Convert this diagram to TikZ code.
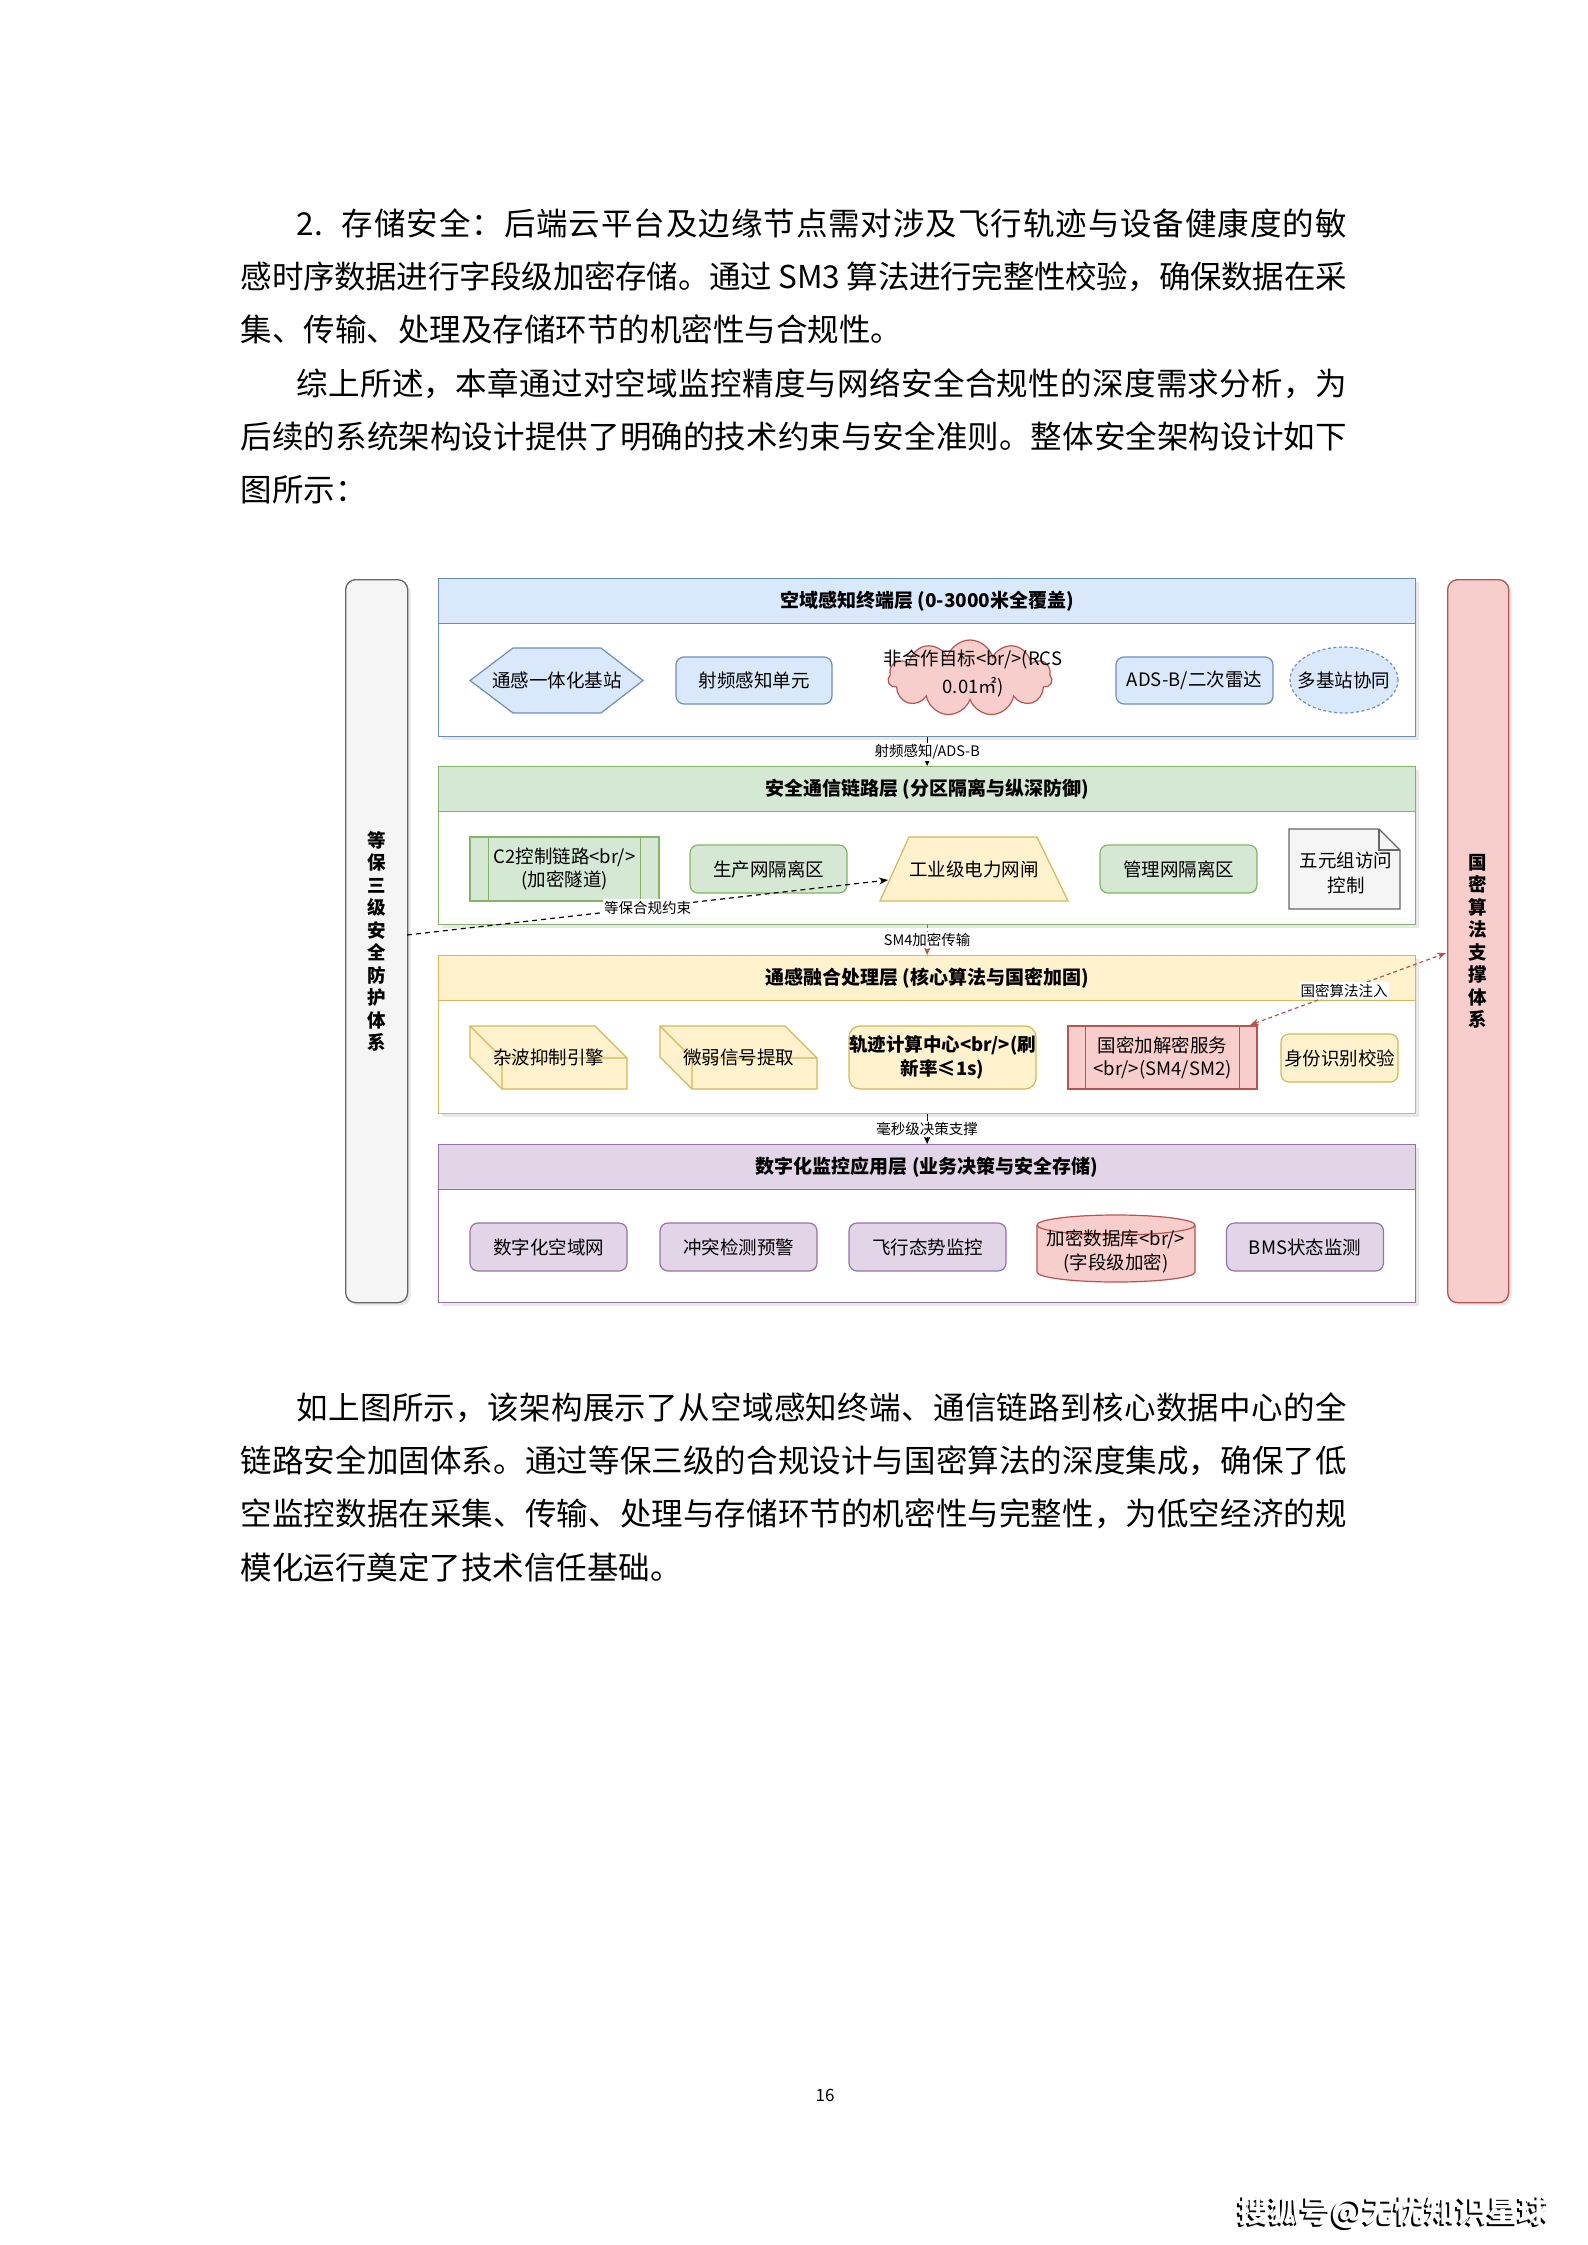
\documentclass[tikz,border=0pt]{standalone}
\usepackage{fontspec}
\setmainfont{Noto Sans CJK SC}
\usetikzlibrary{arrows.meta,shapes.geometric,shapes.symbols,shadows}
\newcount\mycc
\mycc="4E00
\loop \XeTeXcharclass\mycc=7 \ifnum\mycc<"9FFF \advance\mycc by 1 \repeat
\XeTeXcharclass"FF0C=7 \XeTeXcharclass"3002=7 \XeTeXcharclass"FF1A=7 \XeTeXcharclass"3001=7
\XeTeXinterchartokenstate=1
\XeTeXinterchartoks 7 7 {\hskip 0pt plus 3pt minus 1.2pt\relax}
\definecolor{blueF}{HTML}{DAE8FC}\definecolor{blueD}{HTML}{6C8EBF}
\definecolor{greenF}{HTML}{D5E8D4}\definecolor{greenD}{HTML}{82B366}
\definecolor{yelF}{HTML}{FFF2CC}\definecolor{yelD}{HTML}{D6B656}
\definecolor{purF}{HTML}{E1D5E7}\definecolor{purD}{HTML}{9673A6}
\definecolor{redF}{HTML}{F8CECC}\definecolor{redD}{HTML}{B85450}
\definecolor{grayF}{HTML}{F5F5F5}\definecolor{grayD}{HTML}{666666}
\newcommand{\myfs}[2]{\fontsize{#1}{#2}\selectfont}
\begin{document}
\begin{tikzpicture}[x=1pt,y=1pt,
  bodytxt/.style={anchor=west, inner sep=0pt, font=\myfs{31.5}{31.5}},
  layerbox/.style={draw=#1, fill=white, line width=1.3pt, minimum width=977, minimum height=158, anchor=north west, inner sep=0pt,
     drop shadow={opacity=0.18, shadow xshift=3pt, shadow yshift=-3pt}},
  header/.style 2 args={draw=#1, fill=#2, line width=1.3pt, minimum width=977, minimum height=45, anchor=north west, inner sep=0pt, font=\bfseries\myfs{19}{22}},
  ntext/.style={font=\myfs{18.5}{22}, align=center, inner sep=0pt, text=black},
  shp/.style 2 args={draw=#1, fill=#2, line width=1.2pt},
  rbox/.style 2 args={draw=#1, fill=#2, line width=1.2pt, rounded corners=8pt, minimum width=157, minimum height=48, ntext},
  pbox/.style 2 args={draw=#1, fill=#2, line width=1.2pt, minimum width=189, minimum height=63, ntext},
  pillar/.style 2 args={draw=#1, fill=#2, line width=1.3pt, rounded corners=10pt, minimum height=723, anchor=north west, inner sep=0pt,
     align=center, font=\bfseries\myfs{18.5}{22.5}, drop shadow={opacity=0.18, shadow xshift=3pt, shadow yshift=-3pt}},
  lbl/.style={fill=white, inner sep=1.5pt, font=\myfs{14.5}{16}, text=black},
  conn/.style={line width=1.2pt, -{Stealth[length=8pt,width=7pt]}}
]
\useasboundingbox (0,0) rectangle (1587,-2245);
\fill[white] (0,0) rectangle (1587,-2245);

% ---------- body text ----------
\node[bodytxt] (t1) at (296.5,-223.4) {\hbox to 1050pt{2.\kern0.6em 存储安全：后端云平台及边缘节点需对涉及飞行轨迹与设备健康度的敏}};
\node[bodytxt] (t2) at (240.6,-276.4) {\hbox to 1106pt{感时序数据进行字段级加密存储。通过 SM3 算法进行完整性校验，确保数据在采}};
\node[bodytxt] (t3) at (240.6,-329.4) {集、传输、处理及存储环节的机密性与合规性。};
\node[bodytxt] (t4) at (296.5,-383.9) {\hbox to 1050pt{综上所述，本章通过对空域监控精度与网络安全合规性的深度需求分析，为}};
\node[bodytxt] (t5) at (240.6,-436.9) {\hbox to 1106pt{后续的系统架构设计提供了明确的技术约束与安全准则。整体安全架构设计如下}};
\node[bodytxt] (t6) at (240.6,-489.8) {图所示：};

\node[bodytxt] (b1) at (296.5,-1408) {\hbox to 1050pt{如上图所示，该架构展示了从空域感知终端、通信链路到核心数据中心的全}};
\node[bodytxt] (b2) at (240.6,-1461) {\hbox to 1106pt{链路安全加固体系。通过等保三级的合规设计与国密算法的深度集成，确保了低}};
\node[bodytxt] (b3) at (240.6,-1514) {\hbox to 1106pt{空监控数据在采集、传输、处理与存储环节的机密性与完整性，为低空经济的规}};
\node[bodytxt] (b4) at (240.6,-1567) {模化运行奠定了技术信任基础。};

\node[font=\myfs{17}{17}, inner sep=0pt] (pg) at (825,-2095) {16};
\node[font=\bfseries\myfs{31}{31}, inner sep=0pt, text=black] (wmS) at (1392,-2214.5) {搜狐号@无忧知识星球};
\node[font=\bfseries\myfs{31}{31}, inner sep=0pt, text=white] (wm) at (1394,-2212.5) {搜狐号@无忧知识星球};

% ---------- pillars ----------
\node[pillar={grayD}{grayF}, minimum width=62] (LP) at (345,-579) {等\\保\\三\\级\\安\\全\\防\\护\\体\\系};
\node[pillar={redD}{redF}, minimum width=61] (RP) at (1447,-579) {国\\密\\算\\法\\支\\撑\\体\\系};

% ---------- layer 1 ----------
\node[layerbox=blueD] (L1) at (438,-578) {};
\node[header={blueD}{blueF}] (L1h) at (438,-578) {空域感知终端层 (0-3000米全覆盖)};
\filldraw[shp={blueD}{blueF}] (470,-680.5) -- (513,-648) -- (601,-648) -- (643,-680.5) -- (601,-713) -- (513,-713) -- cycle;
\node[ntext] (bs) at (557,-680.5) {通感一体化基站};
\node[rbox={blueD}{blueF}, minimum width=156, minimum height=47] (rf) at (754,-680.5) {射频感知单元};
\node[cloud, cloud puffs=11, aspect=2.1, draw=redD, fill=redF, line width=1.2pt, minimum width=164, minimum height=76, inner sep=0pt] (tgt) at (970,-678) {};
\node[ntext, font=\myfs{18.5}{28}] (tgtT) at (973,-674) {非合作目标<br/>(RCS\\0.01㎡)};
\node[rbox={blueD}{blueF}, minimum width=157, minimum height=47] (ads) at (1194.5,-680.5) {ADS-B/二次雷达};
\node[ellipse, draw=blueD, fill=blueF, line width=1.2pt, dash pattern=on 3pt off 2.5pt, minimum width=108, minimum height=66, inner sep=0pt] (multi) at (1344,-680) {};
\node[ntext] (multiT) at (1344,-680) {多基站协同};

% ---------- layer 2 ----------
\node[layerbox=greenD] (L2) at (438,-766) {};
\node[header={greenD}{greenF}] (L2h) at (438,-766) {安全通信链路层 (分区隔离与纵深防御)};
\node[pbox={greenD}{greenF}, minimum height=64, font=\myfs{18.5}{23}] (c2) at (564.5,-869) {C2控制链路<br/>\\(加密隧道)};
\draw[greenD, line width=1.2pt] ([xshift=19pt]c2.north west) -- ([xshift=19pt]c2.south west)
  ([xshift=-19pt]c2.north east) -- ([xshift=-19pt]c2.south east);
\node[rbox={greenD}{greenF}] (prod) at (768.5,-869) {生产网隔离区};
\filldraw[shp={yelD}{yelF}] (909,-837) -- (1037,-837) -- (1068,-901) -- (880,-901) -- cycle;
\node[ntext] (gate) at (974,-869) {工业级电力网闸};
\coordinate (gateW) at (888,-880);
\node[rbox={greenD}{greenF}] (mgmt) at (1178.5,-869) {管理网隔离区};
\filldraw[shp={grayD}{grayF}] (1289,-829) -- (1379,-829) -- (1400,-850) -- (1400,-909) -- (1289,-909) -- cycle;
\draw[grayD, line width=1.2pt] (1379,-829) -- (1379,-850) -- (1400,-850);
\node[ntext, font=\myfs{18.5}{25}] (acl) at (1346,-872.5) {五元组访问\\控制};

% ---------- layer 3 ----------
\node[layerbox=yelD] (L3) at (438,-955) {};
\node[header={yelD}{yelF}] (L3h) at (438,-955) {通感融合处理层 (核心算法与国密加固)};
\filldraw[shp={yelD}{yelF}] (470,-1026) -- (595,-1026) -- (627,-1058) -- (627,-1089) -- (502,-1089) -- (470,-1057) -- cycle;
\draw[yelD, line width=1.2pt] (470,-1026) -- (502,-1058) -- (627,-1058) (502,-1058) -- (502,-1089);
\node[ntext] (clutter) at (548.5,-1057.5) {杂波抑制引擎};
\filldraw[shp={yelD}{yelF}] (660,-1026) -- (785,-1026) -- (817,-1058) -- (817,-1089) -- (692,-1089) -- (660,-1057) -- cycle;
\draw[yelD, line width=1.2pt] (660,-1026) -- (692,-1058) -- (817,-1058) (692,-1058) -- (692,-1089);
\node[ntext] (weak) at (738.5,-1057.5) {微弱信号提取};
\node[rbox={yelD}{yelF}, rounded corners=11pt, minimum width=187, minimum height=63, font=\bfseries\myfs{18.5}{24}] (traj) at (942.5,-1057.5) {轨迹计算中心<br/>(刷\\新率≤1s)};
\node[pbox={redD}{redF}, font=\myfs{18.5}{23}] (kms) at (1162.5,-1057.5) {国密加解密服务\\<br/>(SM4/SM2)};
\draw[redD, line width=1.2pt] ([xshift=18pt]kms.north west) -- ([xshift=18pt]kms.south west)
  ([xshift=-18pt]kms.north east) -- ([xshift=-18pt]kms.south east);
\node[rbox={yelD}{yelF}, minimum width=117, minimum height=48] (ident) at (1339.5,-1058) {身份识别校验};
\coordinate (kmsTR) at (1250,-1025);
\coordinate (rpIn) at (1446,-953);

% ---------- layer 4 ----------
\node[layerbox=purD] (L4) at (438,-1144) {};
\node[header={purD}{purF}] (L4h) at (438,-1144) {数字化监控应用层 (业务决策与安全存储)};
\node[rbox={purD}{purF}] (grid) at (548.5,-1247) {数字化空域网};
\node[rbox={purD}{purF}] (warn) at (738.5,-1247) {冲突检测预警};
\node[rbox={purD}{purF}] (sit) at (927.5,-1247) {飞行态势监控};
\filldraw[shp={redD}{redF}] (1037,-1225) -- (1037,-1272) arc[start angle=180, end angle=360, x radius=79, y radius=10]
  -- (1195,-1225) arc[start angle=0, end angle=180, x radius=79, y radius=10] -- cycle;
\draw[redD, line width=1.2pt] (1037,-1225) arc[start angle=180, end angle=360, x radius=79, y radius=10];
\node[ntext, font=\myfs{18.5}{24}] (db) at (1116,-1251) {加密数据库<br/>\\(字段级加密)};
\node[rbox={purD}{purF}] (bms) at (1305,-1247) {BMS状态监测};

% ---------- connectors ----------
\draw[conn] (L1.south) -- node[lbl] {射频感知/ADS-B} (L2.north);
\draw[conn, redD, dashed] (L2.south) -- node[lbl] {SM4加密传输} (L3.north);
\draw[conn] (L3.south) -- node[lbl] {毫秒级决策支撑} (L4.north);
\coordinate (lpOut) at (407,-935);
\draw[line width=1.2pt, dash pattern=on 5pt off 4pt, -{Stealth[length=9pt,width=7pt]}] (lpOut) -- node[lbl, pos=0.5] {等保合规约束} (gateW);
\draw[redD, line width=1.2pt, dash pattern=on 4pt off 3pt, {Stealth[length=9pt,width=7pt]}-{Stealth[length=9pt,width=7pt]}] (kmsTR) -- node[lbl, pos=0.48] {国密算法注入} (rpIn);
\end{tikzpicture}
\end{document}
